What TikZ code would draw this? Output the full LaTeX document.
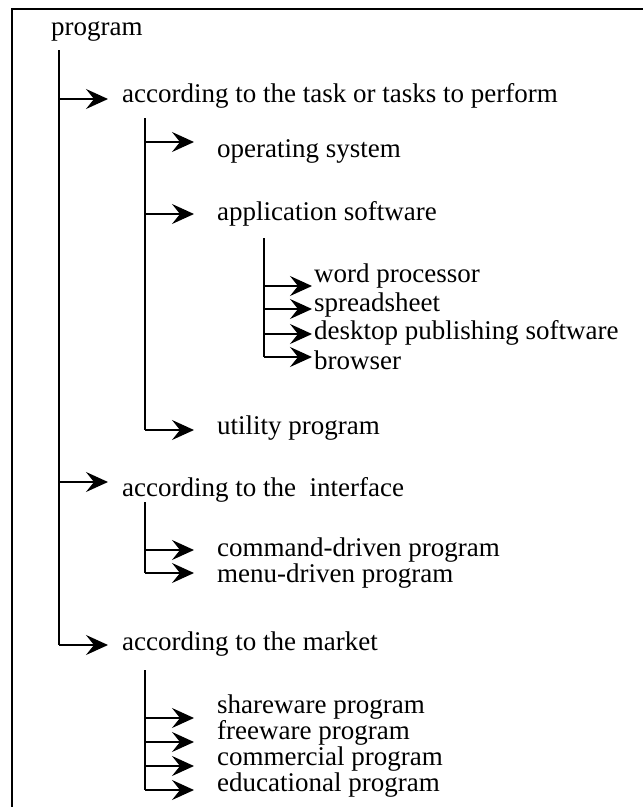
\documentclass[tikz,border=0pt]{standalone}
\usepackage{fontspec}
\setmainfont{Liberation Serif}
\usetikzlibrary{arrows.meta}
\begin{document}
\begin{tikzpicture}[x=1pt,y=-1pt,
  lbl/.style={anchor=base west, inner sep=0pt, font=\fontsize{27}{32}\selectfont},
  br/.style={line width=1.3pt},
  arr/.style={line width=1.3pt, -{Stealth[length=22pt,width=20pt,inset=8pt]}},
  frameline/.style={line width=2.2pt}]
\useasboundingbox (0,0) rectangle (643,807);
% frame
\coordinate (fbl) at (12,807);
\coordinate (ftl) at (12,9);
\coordinate (ftr) at (643,9);
\draw[frameline] (fbl) -- (ftl) -- (ftr);
% labels
\node[lbl] (prog) at (51,35) {program};
\node[lbl] (task) at (122,102) {according to the task or tasks to perform};
\node[lbl] (os) at (217,157) {operating system};
\node[lbl] (app) at (217,220) {application software};
\node[lbl] (wp) at (314,282) {word processor};
\node[lbl] (ss) at (314,311) {spreadsheet};
\node[lbl] (dtp) at (314,339) {desktop publishing software};
\node[lbl] (brw) at (314,369) {browser};
\node[lbl] (util) at (217,434) {utility program};
\node[lbl] (intf) at (122,496) {according to the\ \ interface};
\node[lbl] (cmd) at (217,556) {command-driven program};
\node[lbl] (menu) at (217,582) {menu-driven program};
\node[lbl] (mkt) at (122,650) {according to the market};
\node[lbl] (sw) at (217,713) {shareware program};
\node[lbl] (fw) at (217,739) {freeware program};
\node[lbl] (com) at (217,765) {commercial program};
\node[lbl] (edu) at (217,791) {educational program};
% main trunk
\coordinate (m0) at (59,50);
\coordinate (m1) at (59,99);
\coordinate (m2) at (59,482);
\coordinate (m3) at (59,645);
\draw[br] (m0) -- (m3);
\draw[arr, shorten >=14pt] (m1) -- (m1 -| task.west);
\draw[arr, shorten >=14pt] (m2) -- (m2 -| intf.west);
\draw[arr, shorten >=14pt] (m3) -- (m3 -| mkt.west);
% task branch
\coordinate (t0) at (145,118);
\coordinate (t1) at (145,142);
\coordinate (t2) at (145,214);
\coordinate (t3) at (145,430);
\draw[br] (t0) -- (t3);
\draw[arr, shorten >=23pt] (t1) -- (t1 -| os.west);
\draw[arr, shorten >=23pt] (t2) -- (t2 -| app.west);
\draw[arr, shorten >=23pt] (t3) -- (t3 -| util.west);
% application branch
\coordinate (s0) at (264,238);
\coordinate (s1) at (264,286);
\coordinate (s2) at (264,309);
\coordinate (s3) at (264,334);
\coordinate (s4) at (264,357);
\draw[br] (s0) -- (s4);
\draw[arr, shorten >=2pt] (s1) -- (s1 -| wp.west);
\draw[arr, shorten >=2pt] (s2) -- (s2 -| ss.west);
\draw[arr, shorten >=2pt] (s3) -- (s3 -| dtp.west);
\draw[arr, shorten >=2pt] (s4) -- (s4 -| brw.west);
% interface branch
\coordinate (i0) at (145,502);
\coordinate (i1) at (145,550);
\coordinate (i2) at (145,573);
\draw[br] (i0) -- (i2);
\draw[arr, shorten >=23pt] (i1) -- (i1 -| cmd.west);
\draw[arr, shorten >=23pt] (i2) -- (i2 -| menu.west);
% market branch
\coordinate (k0) at (145,670);
\coordinate (k1) at (145,718);
\coordinate (k2) at (145,742);
\coordinate (k3) at (145,766);
\coordinate (k4) at (145,790);
\draw[br] (k0) -- (k4);
\draw[arr, shorten >=23pt] (k1) -- (k1 -| sw.west);
\draw[arr, shorten >=23pt] (k2) -- (k2 -| fw.west);
\draw[arr, shorten >=23pt] (k3) -- (k3 -| com.west);
\draw[arr, shorten >=23pt] (k4) -- (k4 -| edu.west);
\end{tikzpicture}
\end{document}
